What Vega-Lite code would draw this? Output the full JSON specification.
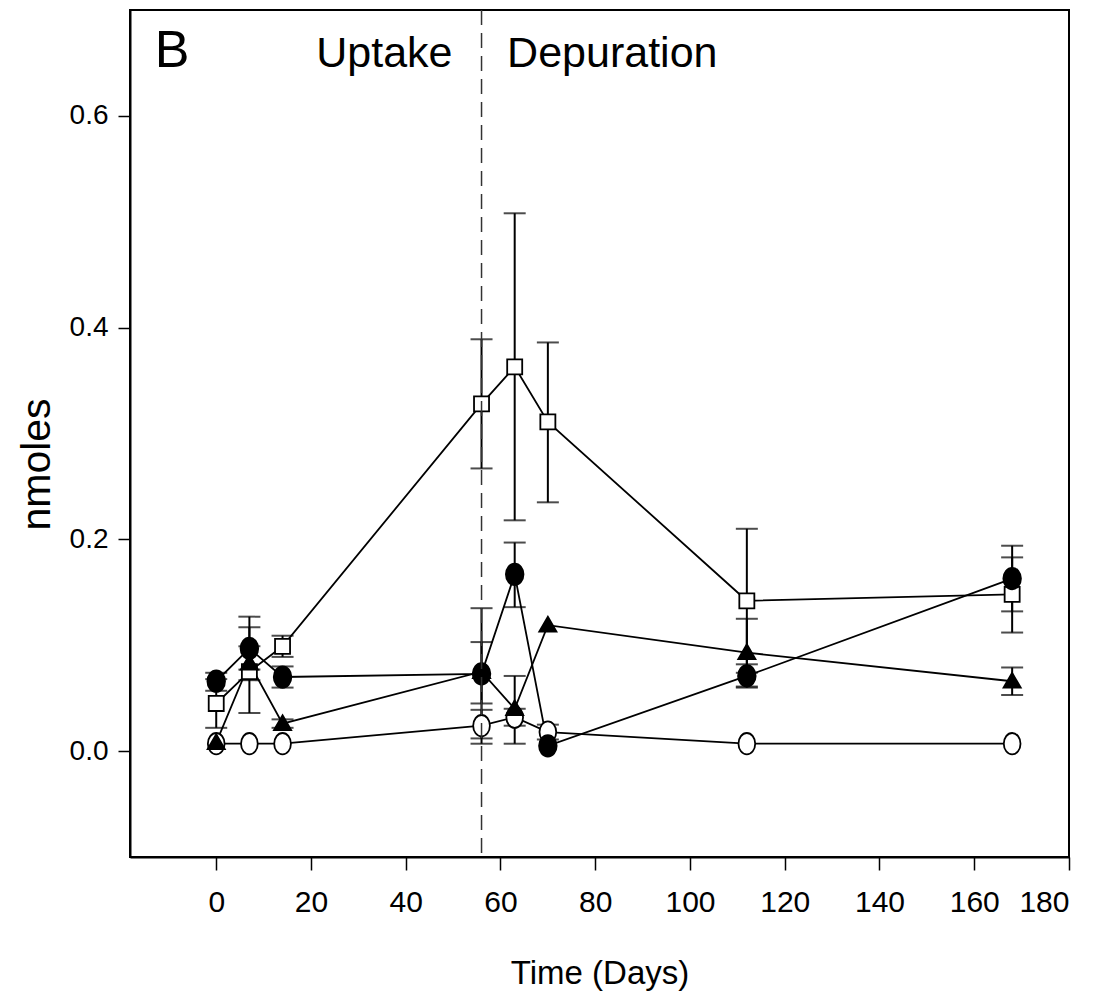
{
  "$schema": "https://vega.github.io/schema/vega-lite/v6.json",
  "width": 939,
  "height": 847,
  "autosize": {"type": "none"},
  "padding": {"left": 130, "top": 10, "right": 32, "bottom": 141},
  "background": "white",
  "config": {
    "view": {"stroke": "black", "strokeWidth": 2},
    "axis": {"domainColor": "black", "domainWidth": 2, "tickColor": "black", "tickWidth": 1.5, "grid": false, "labelColor": "black", "titleColor": "black", "titleFontWeight": "normal"},
    "axisX": {"labelFont": "Liberation Sans", "labelFontSize": 30, "labelPadding": 17, "tickSize": 13, "titleFont": "Liberation Sans", "titleFontSize": 33},
    "axisY": {"labelFont": "Liberation Sans", "labelFontSize": 28, "labelPadding": 10, "tickSize": 12, "titleFont": "Liberation Sans", "titleFontSize": 41}
  },
  "datasets": {
    "pts": [
      {"series": "oc", "day": 0, "y": 0.007, "lo": null, "hi": null},
      {"series": "oc", "day": 7, "y": 0.007, "lo": null, "hi": null},
      {"series": "oc", "day": 14, "y": 0.007, "lo": null, "hi": null},
      {"series": "oc", "day": 56, "y": 0.024, "lo": 0.007, "hi": 0.039},
      {"series": "oc", "day": 63, "y": 0.032, "lo": 0.024, "hi": 0.04},
      {"series": "oc", "day": 70, "y": 0.018, "lo": 0.011, "hi": 0.025},
      {"series": "oc", "day": 112, "y": 0.007, "lo": null, "hi": null},
      {"series": "oc", "day": 168, "y": 0.007, "lo": null, "hi": null},
      {"series": "sq", "day": 0, "y": 0.045, "lo": 0.022, "hi": 0.068},
      {"series": "sq", "day": 7, "y": 0.075, "lo": 0.036, "hi": 0.127},
      {"series": "sq", "day": 14, "y": 0.099, "lo": 0.089, "hi": 0.109},
      {"series": "sq", "day": 56, "y": 0.328, "lo": 0.267, "hi": 0.389},
      {"series": "sq", "day": 63, "y": 0.363, "lo": 0.218, "hi": 0.508},
      {"series": "sq", "day": 70, "y": 0.311, "lo": 0.235, "hi": 0.386},
      {"series": "sq", "day": 112, "y": 0.142, "lo": 0.074, "hi": 0.21},
      {"series": "sq", "day": 168, "y": 0.148, "lo": 0.112, "hi": 0.183},
      {"series": "ft", "day": 0, "y": 0.008, "lo": null, "hi": null},
      {"series": "ft", "day": 7, "y": 0.083, "lo": 0.067, "hi": 0.099},
      {"series": "ft", "day": 14, "y": 0.026, "lo": 0.022, "hi": 0.03},
      {"series": "ft", "day": 56, "y": 0.075, "lo": 0.012, "hi": 0.135},
      {"series": "ft", "day": 63, "y": 0.04, "lo": 0.007, "hi": 0.071},
      {"series": "ft", "day": 70, "y": 0.119, "lo": null, "hi": null},
      {"series": "ft", "day": 112, "y": 0.093, "lo": 0.061, "hi": 0.125},
      {"series": "ft", "day": 168, "y": 0.066, "lo": 0.053, "hi": 0.079},
      {"series": "fc", "day": 0, "y": 0.066, "lo": 0.057, "hi": 0.074},
      {"series": "fc", "day": 7, "y": 0.097, "lo": 0.077, "hi": 0.117},
      {"series": "fc", "day": 14, "y": 0.07, "lo": 0.06, "hi": 0.08},
      {"series": "fc", "day": 56, "y": 0.073, "lo": 0.045, "hi": 0.103},
      {"series": "fc", "day": 63, "y": 0.167, "lo": 0.136, "hi": 0.197},
      {"series": "fc", "day": 70, "y": 0.005, "lo": null, "hi": null},
      {"series": "fc", "day": 112, "y": 0.071, "lo": 0.06, "hi": 0.082},
      {"series": "fc", "day": 168, "y": 0.163, "lo": 0.132, "hi": 0.194}
    ],
    "labels": [
      {"label": "B", "day": -9.3, "y": 0.646},
      {"label": "Uptake", "day": 35.5, "y": 0.646},
      {"label": "Depuration", "day": 83.6, "y": 0.646}
    ]
  },
  "layer": [
    {
      "data": {"name": "pts"},
      "mark": {"type": "line", "color": "black", "strokeWidth": 1.8},
      "encoding": {
        "x": {"field": "day", "type": "quantitative", "scale": {"domain": [-18.2, 180], "nice": false, "zero": false}, "axis": {"title": "Time (Days)", "values": [0, 20, 40, 60, 80, 100, 120, 140, 160, 180], "titleY": 116, "titleBaseline": "middle"}},
        "y": {"field": "y", "type": "quantitative", "scale": {"domain": [-0.1, 0.7], "nice": false, "zero": false}, "axis": {"title": "nmoles", "values": [0, 0.2, 0.4, 0.6], "format": ".1f", "titleX": -93, "titleY": 454, "titleBaseline": "middle", "titleAlign": "center"}},
        "detail": {"field": "series"},
        "order": {"field": "day"}
      }
    },
    {
      "data": {"name": "pts"},
      "transform": [{"filter": "datum.lo != null"}],
      "mark": {"type": "rule", "color": "black", "strokeWidth": 2},
      "encoding": {
        "x": {"field": "day", "type": "quantitative"},
        "y": {"field": "lo", "type": "quantitative", "axis": {"title": "nmoles", "values": [0, 0.2, 0.4, 0.6], "format": ".1f"}},
        "y2": {"field": "hi"}
      }
    },
    {
      "data": {"name": "pts"},
      "transform": [{"filter": "datum.lo != null"}],
      "mark": {"type": "tick", "orient": "horizontal", "color": "black", "size": 22, "thickness": 2},
      "encoding": {
        "x": {"field": "day", "type": "quantitative"},
        "y": {"field": "lo", "type": "quantitative", "axis": {"title": "nmoles", "values": [0, 0.2, 0.4, 0.6], "format": ".1f"}}
      }
    },
    {
      "data": {"name": "pts"},
      "transform": [{"filter": "datum.lo != null"}],
      "mark": {"type": "tick", "orient": "horizontal", "color": "black", "size": 22, "thickness": 2},
      "encoding": {
        "x": {"field": "day", "type": "quantitative"},
        "y": {"field": "hi", "type": "quantitative", "axis": {"title": "nmoles", "values": [0, 0.2, 0.4, 0.6], "format": ".1f"}}
      }
    },
    {
      "data": {"name": "pts"},
      "mark": {"type": "point", "filled": true, "stroke": "black", "strokeWidth": 1.8, "size": 460, "opacity": 1, "fillOpacity": 1, "strokeOpacity": 1},
      "encoding": {
        "x": {"field": "day", "type": "quantitative"},
        "y": {"field": "y", "type": "quantitative"},
        "shape": {"field": "series", "type": "nominal", "legend": null, "scale": {"domain": ["sq", "fc", "ft", "oc"], "range": ["M-0.7,-0.7H0.7V0.7H-0.7Z", "M-0.82,0A0.82,1 0 1,0 0.82,0A0.82,1 0 1,0 -0.82,0Z", "M0,-0.78L0.8,0.6H-0.8Z", "M-0.78,0A0.78,1 0 1,0 0.78,0A0.78,1 0 1,0 -0.78,0Z"]}},
        "fill": {"field": "series", "type": "nominal", "legend": null, "scale": {"domain": ["sq", "fc", "ft", "oc"], "range": ["white", "black", "black", "white"]}}
      }
    },
    {
      "data": {"values": [{"day": 56}]},
      "mark": {"type": "rule", "color": "#333333", "strokeWidth": 1.5, "strokeDash": [15, 8]},
      "encoding": {"x": {"field": "day", "type": "quantitative"}}
    },
    {
      "data": {"name": "labels"},
      "transform": [{"filter": "datum.label == 'B'"}],
      "mark": {"type": "text", "font": "Liberation Sans", "fontSize": 52, "color": "black", "align": "center", "baseline": "alphabetic"},
      "encoding": {
        "x": {"field": "day", "type": "quantitative"},
        "y": {"field": "y", "type": "quantitative"},
        "text": {"field": "label"}
      }
    },
    {
      "data": {"name": "labels"},
      "transform": [{"filter": "datum.label != 'B'"}],
      "mark": {"type": "text", "font": "Liberation Sans", "fontSize": 43, "color": "black", "align": "center", "baseline": "alphabetic"},
      "encoding": {
        "x": {"field": "day", "type": "quantitative"},
        "y": {"field": "y", "type": "quantitative"},
        "text": {"field": "label"}
      }
    }
  ]
}
